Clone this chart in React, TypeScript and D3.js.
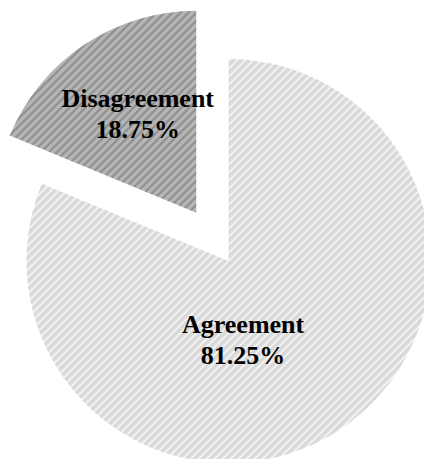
import React from "react";
import * as d3 from "d3";

const categories = ["Agreement", "Disagreement"];
const values = [81.25, 18.75];
const percentLabels = ["81.25%", "18.75%"];

const W = 424;
const H = 459;
const cx = 228.5;
const cy = 261;
const R = 202;
const explode = [0, 58];
const fills = ["url(#hatchLight)", "url(#hatchDark)"];
// label placement in polar coordinates (degrees clockwise from 12 o'clock, px from slice corner)
const labelPolar = [
  { deg: 169.5, dist: 80 },
  { deg: 329.4, dist: 115 },
];

export default function App() {
  const pie = d3.pie<number>().sort(null).value((d) => d);
  const arcs = pie(values);
  const arcGen = d3.arc<d3.PieArcDatum<number>>().innerRadius(0).outerRadius(R);
  const fs = 26;
  const lh = 31;

  return (
    <svg
      width={W}
      height={H}
      style={{ position: "fixed", left: 0, top: 0, background: "#fff" }}
    >
      <defs>
        <pattern id="hatchLight" patternUnits="userSpaceOnUse" width={8} height={8}>
          <rect width={8} height={8} fill="#d9d9d9" />
          <path d="M-2,2 L2,-2 M0,8 L8,0 M6,10 L10,6" stroke="#f7f7f7" strokeWidth={1.6} />
        </pattern>
        <pattern id="hatchDark" patternUnits="userSpaceOnUse" width={8} height={8}>
          <rect width={8} height={8} fill="#b5b5b5" />
          <path d="M-2,2 L2,-2 M0,8 L8,0 M6,10 L10,6" stroke="#858585" strokeWidth={1.6} />
        </pattern>
      </defs>
      {arcs.map((a, i) => {
        const mid = (a.startAngle + a.endAngle) / 2;
        const ox = cx + explode[i] * Math.sin(mid);
        const oy = cy - explode[i] * Math.cos(mid);
        const lp = labelPolar[i];
        const la = (lp.deg * Math.PI) / 180;
        const lx = ox + lp.dist * Math.sin(la);
        const ly = oy - lp.dist * Math.cos(la);
        return (
          <g key={categories[i]}>
            <path d={arcGen(a) || ""} transform={`translate(${ox},${oy})`} fill={fills[i]} />
            <text
              x={lx}
              textAnchor="middle"
              fontFamily="'Liberation Serif', 'Times New Roman', serif"
              fontWeight="bold"
              fontSize={fs}
              fill="#000"
            >
              <tspan x={lx} y={ly - lh / 2 + 0.35 * fs}>{categories[i]}</tspan>
              <tspan x={lx} y={ly + lh / 2 + 0.35 * fs}>{percentLabels[i]}</tspan>
            </text>
          </g>
        );
      })}
    </svg>
  );
}
